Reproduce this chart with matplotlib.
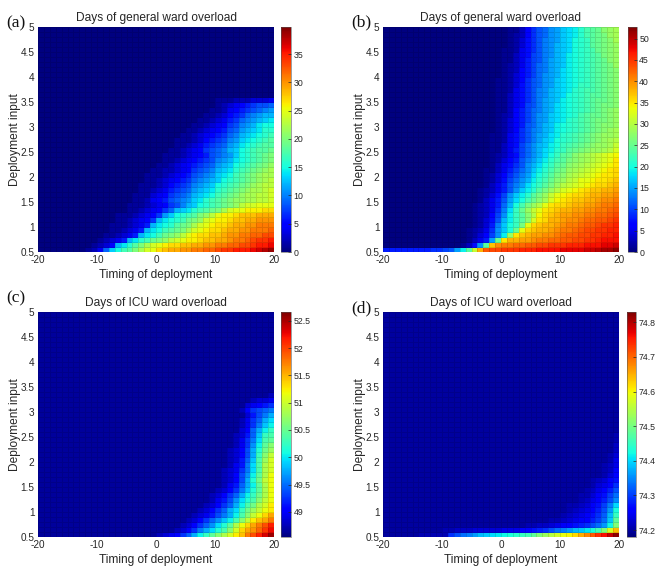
import numpy as np
import matplotlib
matplotlib.use("Agg")
import matplotlib.pyplot as plt

plt.rcParams['font.family'] = ['Liberation Sans', 'DejaVu Sans']
plt.rcParams['axes.unicode_minus'] = False

timing_edges = list(range(-20, 21))
input_edges = [0.5 + 0.1 * i for i in range(46)]

# Each row runs from deployment input 0.5 upward; values are right-aligned at timing 19..20.
# Cells left of a row's list hold the panel's floor value.
gen_a = [
 [1,2,4,9,13,15,17,18,20,22,24,25,27,28,29,29,30,30,31,31,32,32,33,34,34,35,35,35,36,37,38,39],
 [1,2,3,5,12,14,16,18,20,22,24,25,26,27,27,28,28,29,29,30,30,31,31,32,32,33,33,34,35,35,36],
 [1,2,3,4,6,12,14,16,17,19,20,21,23,24,25,26,26,27,28,28,29,29,30,31,31,32,33,34,34,35],
 [1,1,2,3,4,6,12,14,15,17,19,20,21,23,25,26,27,27,28,28,29,30,30,31,31,32,32,33,33],
 [1,1,2,3,4,6,12,14,15,17,18,19,20,22,24,25,26,27,27,28,29,29,30,30,31,31,31,32],
 [1,1,1,2,3,4,6,12,14,15,16,18,19,20,22,24,25,26,27,27,28,29,29,30,30,31,31,31],
 [1,1,2,3,4,5,7,12,14,15,16,17,19,20,21,24,25,26,26,27,28,28,29,29,30,30,30],
 [1,1,1,2,3,4,5,7,11,13,15,16,17,18,20,21,23,25,26,26,27,28,28,28,29,29,29],
 [1,1,2,3,4,5,7,9,12,13,14,16,17,18,19,20,22,24,25,25,26,26,26,27,27],
 [1,1,1,2,3,4,5,7,8,10,12,13,15,16,17,18,19,20,21,23,24,24,25,25,25],
 [1,1,2,4,5,6,8,9,10,11,13,14,16,17,18,19,20,21,21,22,22,23,23,24],
 [1,1,1,3,4,5,7,8,9,10,12,13,14,15,17,18,19,20,21,22,22,23,23,24],
 [1,1,2,3,4,6,7,8,9,11,12,13,14,16,17,18,19,20,21,22,22,23,24],
 [1,1,1,2,3,5,6,7,8,10,11,12,13,15,16,17,18,19,20,21,22,23,23],
 [1,1,2,3,4,5,6,7,9,10,11,12,13,15,16,17,18,19,20,21,22,23],
 [1,1,1,2,3,4,5,6,8,9,10,11,13,14,15,17,18,19,20,21,22,22],
 [1,1,2,2,3,4,5,7,8,9,10,12,13,14,16,17,18,19,20,21,22],
 [1,1,2,3,4,5,6,7,8,9,11,12,13,15,16,17,18,19,20,21],
 [1,1,2,3,4,5,6,7,8,10,11,12,14,15,16,17,18,19,20],
 [1,1,1,2,3,4,5,6,8,9,10,11,13,15,16,17,18,19,20],
 [1,1,2,3,4,5,7,8,9,10,12,13,15,16,17,18,18,19],
 [1,1,2,3,4,6,7,8,9,11,12,14,15,16,17,18,18],
 [1,1,1,2,3,5,6,7,8,10,11,13,14,15,16,17,18],
 [1,1,2,3,4,5,6,7,9,10,12,13,14,15,16,17],
 [1,1,2,3,4,5,6,8,9,11,12,13,14,16,16],
 [1,1,2,3,4,5,7,8,10,11,12,14,15,15],
 [1,1,2,3,4,6,7,9,10,11,12,13,14],
 [1,1,2,3,5,6,7,9,10,11,12,12],
 [1,1,2,4,5,6,7,8,9,10,11],
 [1,2,3,4,5,6,7,8,8,9],
 [1,1,1,2,2,2,3,3,3,4],
]

gen_b = [
 [8,8,8,8,8,8,8,8,9,9,10,11,15,19,24,31,38,43,44,44,45,45,45,46,46,46,47,47,47,47,48,48,48,48,49,49,50,51,51,52],
 [1,3,7,14,24,37,40,41,41,42,42,43,43,44,44,45,45,45,46,46,46,47,47,47,48,48,49],
 [1,3,5,8,15,25,35,38,38,39,39,40,41,41,42,42,43,43,44,44,45,45,46,47,47,47],
 [1,2,4,6,10,14,19,28,35,37,38,39,39,40,40,41,42,43,43,44,44,45,45,46,46,47],
 [1,2,3,5,9,14,17,20,25,33,36,37,38,38,39,40,41,41,42,43,44,44,45,45,46,46],
 [1,2,4,8,13,17,20,22,26,33,36,37,38,38,39,40,41,41,42,43,43,44,45,45,46],
 [1,2,4,7,11,16,19,22,24,27,32,35,36,38,38,39,40,40,41,42,42,43,43,44,45],
 [1,2,3,6,10,14,19,22,24,27,30,34,36,37,38,39,39,40,40,41,41,42,42,43,44],
 [1,2,3,5,9,13,18,22,25,28,31,33,35,36,37,38,38,39,39,40,40,41,41,42,43],
 [1,2,3,5,8,12,16,20,23,26,28,30,33,35,36,36,37,38,38,39,39,40,41,41,42],
 [1,3,5,8,11,15,18,20,23,25,27,29,32,34,35,36,37,37,38,38,39,40,40,41],
 [1,2,4,7,10,14,17,19,21,24,26,28,31,33,34,35,36,36,37,38,38,39,39,40],
 [1,2,3,5,8,11,14,17,19,21,24,26,28,30,32,33,34,35,36,37,37,38,38,39],
 [1,3,5,8,11,13,15,18,20,22,24,26,28,30,31,32,33,34,35,36,36,37,38],
 [1,2,4,7,10,12,14,16,19,21,23,25,27,28,30,31,33,33,34,35,35,36,37],
 [1,2,4,6,9,11,13,15,18,20,22,24,26,27,29,30,31,32,33,34,35,35,36],
 [1,1,3,5,8,10,12,14,17,19,21,23,25,26,28,29,30,31,32,33,34,35,36],
 [1,3,5,7,9,11,14,16,18,20,22,24,25,27,28,29,30,31,32,33,34,35],
 [1,2,4,6,8,11,13,15,17,19,21,23,24,26,27,28,29,30,31,32,33,35],
 [1,2,3,5,7,10,12,14,16,18,20,22,24,25,27,28,29,30,31,32,33,34],
 [1,1,3,5,8,10,12,14,16,18,19,21,22,24,25,26,27,28,28,29,30,32],
 [1,1,3,5,7,10,12,14,16,17,19,20,22,23,24,25,26,27,28,28,29,31],
 [1,1,2,5,7,9,11,13,15,17,18,20,21,22,23,24,25,26,27,28,29,30],
 [1,1,2,5,7,9,11,13,15,16,18,19,21,22,23,24,25,26,27,28,28,29],
 [1,2,4,6,9,11,13,14,16,17,19,20,21,22,23,24,25,26,27,28,29],
 [1,2,4,6,8,11,12,14,16,17,19,20,21,22,23,24,25,26,27,27,28],
 [1,2,4,6,8,10,12,14,15,17,18,19,21,22,23,24,25,26,26,27,28],
 [1,2,3,6,8,10,12,14,15,17,18,19,20,21,23,24,25,25,26,27,28],
 [1,1,3,6,8,10,12,13,15,16,18,19,20,21,22,23,24,25,26,27,28],
 [1,1,3,5,7,10,11,13,15,16,18,19,20,21,22,23,24,25,26,26,27],
 [1,1,3,5,7,9,11,13,15,16,17,19,20,21,22,23,24,25,25,26,27],
 [1,1,3,5,7,9,11,13,14,16,17,18,20,21,22,23,24,24,25,26,27],
 [1,1,2,5,7,9,11,13,14,16,17,18,19,21,22,23,23,24,25,26,27],
 [1,1,2,4,7,9,11,12,14,15,17,18,19,20,22,22,23,24,25,26,27],
 [1,1,2,4,6,9,11,12,14,15,17,18,19,20,21,22,23,24,25,26,27],
 [0,1,2,4,6,8,10,12,14,15,16,18,19,20,21,22,23,24,25,26,27],
 [0,1,2,3,6,8,10,12,13,15,16,18,19,20,21,22,23,24,25,26,27],
 [0,1,2,3,5,8,10,12,13,15,16,17,19,20,21,22,23,24,25,26,28],
 [0,1,1,3,5,8,10,11,13,15,16,17,19,20,21,22,23,24,25,27,28],
 [0,1,1,3,5,7,10,11,13,14,16,17,19,20,21,22,23,24,26,27,28],
 [0,1,1,2,5,7,9,11,13,14,16,17,18,20,21,22,23,25,26,27,28],
 [0,0,1,2,4,7,9,11,13,14,16,17,18,20,21,22,24,25,26,27,28],
 [0,0,1,2,4,7,9,11,13,14,15,17,18,20,21,22,24,25,26,27,29],
 [0,0,1,2,3,6,9,11,12,14,15,17,18,19,21,23,24,25,26,28,29],
 [0,0,1,1,3,6,9,11,12,14,15,17,18,19,21,23,24,25,27,28,29],
]

# Panel (c) is read in tenths of a day above 48.55.
icu_c_tenths = [
 [1,2,3,4,5,7,9,12,15,17,19,21,23,25,27,29,32,34,36,38,40],
 [1,2,3,5,7,10,12,14,16,18,21,25,28,30,31,33,35,37],
 [1,2,3,5,7,9,11,14,16,19,23,26,28,30,32,34,36],
 [1,2,3,5,7,9,11,13,15,18,21,24,27,29,30,32],
 [1,2,3,4,6,8,10,12,15,18,21,24,26,28,30],
 [1,2,3,5,7,9,12,14,17,20,22,24,26,27],
 [1,2,3,5,7,9,12,15,18,20,23,25,27],
 [1,2,4,6,8,11,14,16,18,21,24,26],
 [1,2,3,5,7,9,12,15,17,20,23,26],
 [1,2,3,5,7,10,13,16,19,23,26],
 [1,1,2,4,6,9,12,15,19,23,26],
 [1,2,3,5,8,12,16,20,24,26],
 [1,2,3,5,8,11,15,19,23,26],
 [1,2,3,4,7,10,14,18,23,25],
 [1,1,2,4,6,10,14,18,23,25],
 [1,1,2,3,6,9,13,18,22,25],
 [1,2,3,5,8,12,17,21,24],
 [1,2,3,5,8,12,16,20,22],
 [1,1,2,4,7,11,15,19,21],
 [1,2,4,7,10,14,18,19],
 [1,2,3,6,9,13,17,18],
 [1,1,3,5,9,12,15,17],
 [1,2,4,7,10,13,15],
 [1,2,4,7,9,12,14],
 [1,1,3,6,8,10,12],
 [2,5,7,8,9,10],
 [1,3,4,5,6,7],
 [1,2,3,3,4],
 [1,1,1,2],
]

# Panel (d) is read in hundredths of a day above 74.18.
icu_d_hundredths = [
 [2,2,2,2,2,2,3,3,3,3,3,11,13,15,16,18,20,21,22,23,24,25,26,27,28,30,33,35,37,39,41,42,44,47,50,53,56,58,61,64],
 [3,3,4,4,4,5,5,5,5,5,6,6,6,7,8,9,10,11,13,15,16,18,20,21,23,25,28,33,40,46],
 [1,1,1,1,2,2,2,2,3,3,4,4,5,6,7,8,9,10,11,13,15,18,24,33],
 [1,1,1,2,2,3,3,4,5,6,7,8,10,12,15,21,30],
 [1,1,2,2,3,4,5,6,7,9,11,14,20,27],
 [1,1,1,2,3,4,5,6,8,10,13,18,25],
 [1,1,2,3,3,4,5,7,9,12,16,22],
 [1,1,2,2,3,4,6,8,10,13,17],
 [1,1,2,3,3,5,7,9,12,15],
 [1,1,2,3,4,6,8,10,13],
 [1,1,2,3,5,6,8,11],
 [1,2,3,4,5,7,9],
 [1,1,2,3,5,8],
 [1,1,2,3,4,7],
 [1,2,3,4,6],
 [1,1,2,3,6],
 [1,2,3,5],
 [1,1,2,4],
 [1,2,4],
 [1,2,3],
 [1,3],
 [1,2],
 [2],
 [1],
]

titles = ['Days of general ward overload', 'Days of general ward overload',
          'Days of ICU ward overload', 'Days of ICU ward overload']
letters = ['(a)', '(b)', '(c)', '(d)']
x_ticks = [-20, -10, 0, 10, 20]
y_ticks = [0.5, 1, 1.5, 2, 2.5, 3, 3.5, 4, 4.5, 5]
y_tick_labels = ['0.5', '1', '1.5', '2', '2.5', '3', '3.5', '4', '4.5', '5']
cbar_ticks = [
    [0, 5, 10, 15, 20, 25, 30, 35],
    [0, 5, 10, 15, 20, 25, 30, 35, 40, 45, 50],
    [49, 49.5, 50, 50.5, 51, 51.5, 52, 52.5],
    [74.2, 74.3, 74.4, 74.5, 74.6, 74.7, 74.8],
]
cbar_labels = [
    ['0', '5', '10', '15', '20', '25', '30', '35'],
    ['0', '5', '10', '15', '20', '25', '30', '35', '40', '45', '50'],
    ['49', '49.5', '50', '50.5', '51', '51.5', '52', '52.5'],
    ['74.2', '74.3', '74.4', '74.5', '74.6', '74.7', '74.8'],
]
limits = [(0, 39.8), (0, 52.7), (48.54, 52.66), (74.18, 74.83)]


def grid(rows, floor=0.0):
    out = np.full((45, 40), float(floor))
    for i, row in enumerate(rows):
        n = min(len(row), 40)
        out[i, 40 - n:] = np.maximum(row[-n:], floor)
    return out


data = [
    grid(gen_a),
    grid(gen_b),
    48.55 + grid(icu_c_tenths, 1) / 10,
    74.18 + grid(icu_d_hundredths, 2) / 100,
]

W, H = 664, 572
fig = plt.figure(figsize=(W / 100, H / 100), dpi=100)


def box(x0, y0, x1, y1):
    return [x0 / W, 1 - y1 / H, (x1 - x0) / W, (y1 - y0) / H]


ax_x = [(38, 274), (383, 619), (38, 274), (383, 619)]
ax_y = [(27, 252), (27, 252), (312, 537), (312, 537)]
cb_x = [(281, 291), (627.5, 636.5), (281, 291), (627, 636)]
title_y = [18, 18, 303, 303]
label_y = [275, 275, 560, 560]
ylab_x = [15, 360, 15, 360]
letter_x = [6, 351, 6, 351]
letter_y = [23, 22, 298, 308]
txt = '#262626'

for i in range(4):
    ax = fig.add_axes(box(ax_x[i][0], ax_y[i][0], ax_x[i][1], ax_y[i][1]))
    m = ax.pcolormesh(timing_edges, input_edges, data[i], cmap='jet',
                      vmin=limits[i][0], vmax=limits[i][1],
                      edgecolors=(0, 0, 0, 0.12), linewidth=0.4)
    ax.set_xlim(-20, 20)
    ax.set_ylim(0.5, 5)
    ax.set_xticks(x_ticks)
    ax.set_yticks(y_ticks)
    ax.set_yticklabels(y_tick_labels)
    ax.tick_params(length=0, labelsize=7.2, colors=txt, pad=2.5)
    for s in ax.spines.values():
        s.set_visible(False)
    cx, cy = (ax_x[i][0] + ax_x[i][1]) / 2, (ax_y[i][0] + ax_y[i][1]) / 2
    fig.text(cx / W, 1 - title_y[i] / H, titles[i], ha='center', va='center',
             fontsize=8.6, color=txt)
    fig.text(cx / W, 1 - label_y[i] / H, 'Timing of deployment', ha='center',
             va='center', fontsize=8.6, color=txt)
    fig.text(ylab_x[i] / W, 1 - cy / H, 'Deployment input', rotation=90, ha='center',
             va='center', fontsize=8.6, color=txt)
    fig.text(letter_x[i] / W, 1 - letter_y[i] / H, letters[i], ha='left', va='center',
             fontsize=12.5, color='#111111', family=['Liberation Serif', 'DejaVu Serif'])

    cax = fig.add_axes(box(cb_x[i][0], ax_y[i][0], cb_x[i][1], ax_y[i][1]))
    cb = fig.colorbar(m, cax=cax)
    cb.set_ticks(cbar_ticks[i])
    cb.set_ticklabels(cbar_labels[i])
    cb.ax.minorticks_off()
    cb.ax.tick_params(direction='in', length=2, width=0.5, labelsize=6.3,
                      colors=txt, pad=2)
    cb.outline.set_linewidth(0.4)
    cb.outline.set_edgecolor('#555555')

fig.savefig('out.png', dpi=100)
